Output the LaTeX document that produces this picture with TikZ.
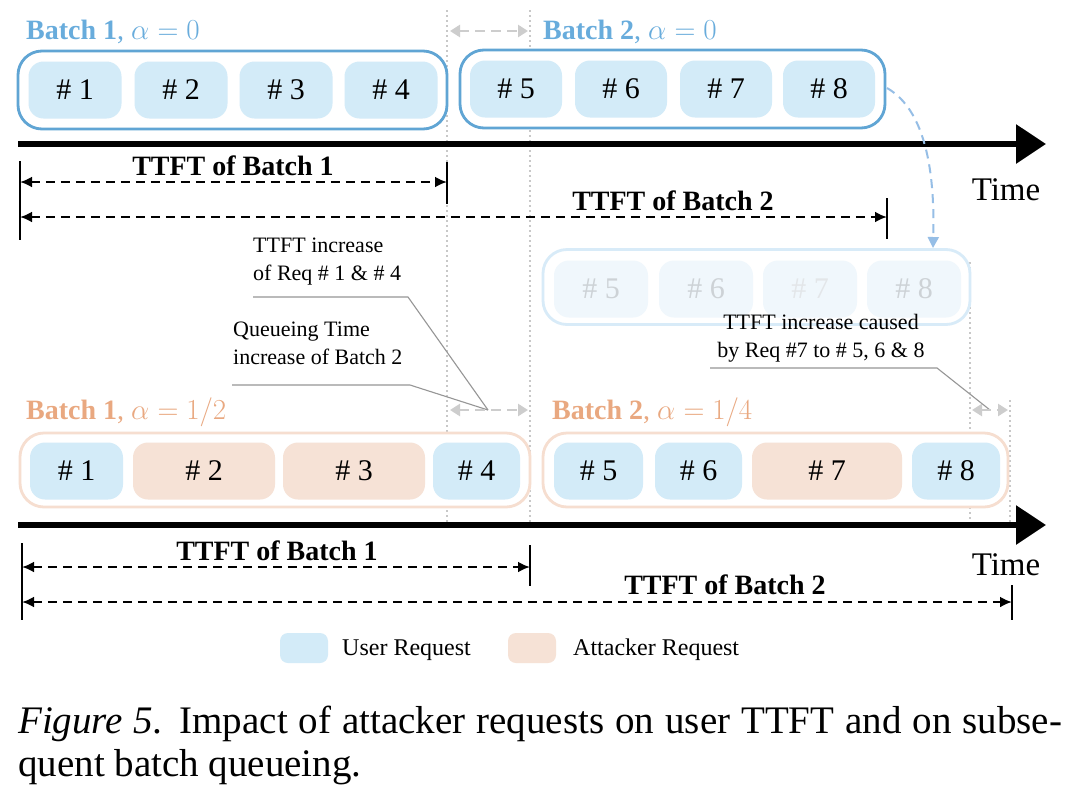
\RequirePackage{fix-cm}
\documentclass[tikz,border=0pt]{standalone}
\usepackage{fontspec}
\setmainfont{Liberation Serif}
\usetikzlibrary{arrows.meta}
\definecolor{bluebd}{RGB}{96,165,212}
\definecolor{bluetx}{RGB}{104,172,220}
\definecolor{bluefill}{RGB}{211,235,248}
\definecolor{orbd}{RGB}{246,222,208}
\definecolor{ortx}{RGB}{233,168,128}
\definecolor{orfill}{RGB}{246,226,214}
\definecolor{ghostbd}{RGB}{216,235,248}
\definecolor{ghostfill}{RGB}{240,247,252}
\definecolor{ghosttx}{RGB}{205,210,214}
\definecolor{dotgray}{RGB}{200,200,200}
\definecolor{leadgray}{RGB}{150,150,150}
\definecolor{arrgray}{RGB}{205,205,205}
\definecolor{curveblue}{RGB}{150,190,230}
\newcommand\fsz[2]{\fontsize{#1}{#2}\selectfont}
\newcommand\amath[1]{{\fsz{29}{30}$#1$}}
\begin{document}
\begin{tikzpicture}[x=1pt,y=-1pt,
  outerB/.style={draw=bluebd, line width=2.8pt, rounded corners=24pt, fill=white, minimum height=78pt, inner sep=0pt},
  outerO/.style={draw=orbd, line width=2.8pt, rounded corners=24pt, fill=white, minimum height=74pt, inner sep=0pt},
  outerG/.style={draw=ghostbd, line width=2.8pt, rounded corners=24pt, fill=white, minimum height=75pt, inner sep=0pt},
  req/.style={rounded corners=15pt, minimum height=57pt, inner sep=0pt, font=\fsz{30}{30}},
  user/.style={req, fill=bluefill},
  att/.style={req, fill=orfill},
  ghostreq/.style={req, fill=ghostfill, text=ghosttx},
  bluelab/.style={anchor=west, text=bluetx, font=\fsz{28}{30}, inner sep=0pt},
  orlab/.style={anchor=west, text=ortx, font=\fsz{28}{30}, inner sep=0pt},
  dotline/.style={draw=dotgray, line width=2pt, dash pattern=on 2pt off 3pt},
  axis/.style={line width=6pt, -{Triangle[length=30pt,width=38pt]}},
  bar/.style={line width=2.4pt},
  dim/.style={line width=2.4pt, dash pattern=on 9pt off 6pt, {Latex[length=12pt,width=11pt]}-{Latex[length=12pt,width=11pt]}},
  gapline/.style={draw=arrgray, line width=2.6pt, dash pattern=on 10pt off 6pt, {Triangle[length=10pt,width=12pt]}-{Triangle[length=10pt,width=12pt]}},
  dimlab/.style={font=\bfseries\fsz{28}{30}, inner sep=0pt},
  timelab/.style={font=\fsz{33}{34}, inner sep=0pt},
  note/.style={font=\fsz{22}{28}, inner sep=0pt},
  lead/.style={draw=leadgray, line width=1.1pt},
  swatch/.style={rounded corners=8pt, minimum width=48pt, minimum height=30pt, inner sep=0pt},
  legtx/.style={anchor=west, font=\fsz{24}{26}, inner sep=0pt},
  captx/.style={anchor=base west, font=\fsz{39}{43}, inner sep=0pt}
]
\useasboundingbox (0,0) rectangle (1080,812);
\fill[white] (0,0) rectangle (1080,812);

% dotted guide lines
\coordinate (d1t) at (447,10);  \coordinate (d1b) at (447,522);
\coordinate (d2t) at (530,10);  \coordinate (d2b) at (530,522);
\coordinate (d3t) at (970,262); \coordinate (d3b) at (970,522);
\coordinate (d4t) at (1010,400); \coordinate (d4b) at (1010,522);
\draw[dotline] (d1t) -- (d1b);
\draw[dotline] (d2t) -- (d2b);
\draw[dotline] (d3t) -- (d3b);
\draw[dotline] (d4t) -- (d4b);

% ---------- top scenario ----------
\node[bluelab] (lb1) at (26,32) {\textbf{Batch 1}, \amath{\alpha = 0}};
\node[bluelab] (lb2) at (543,32) {\textbf{Batch 2}, \amath{\alpha = 0}};
\coordinate (g1a) at (450,31); \coordinate (g1b) at (528,31);
\draw[gapline] (g1a) -- (g1b);

\node[outerB, minimum width=429pt] (B1) at (232.5,90) {};
\node[user, minimum width=93pt] (r1) at (75,90) {\# 1};
\node[user, minimum width=93pt] (r2) at (181,90) {\# 2};
\node[user, minimum width=93pt] (r3) at (286,90) {\# 3};
\node[user, minimum width=93pt] (r4) at (391,90) {\# 4};

\node[outerB, minimum width=425pt] (B2) at (672.5,89) {};
\node[user, minimum width=92pt] (r5) at (516,89) {\# 5};
\node[user, minimum width=92pt] (r6) at (621,89) {\# 6};
\node[user, minimum width=92pt] (r7) at (726,89) {\# 7};
\node[user, minimum width=92pt] (r8) at (829,89) {\# 8};

\coordinate (ax1s) at (18,144); \coordinate (ax1e) at (1046,144);
\draw[axis] (ax1s) -- (ax1e);

\coordinate (tb1t) at (20,161); \coordinate (tb1b) at (20,240);
\coordinate (tb2t) at (447,162); \coordinate (tb2b) at (447,204);
\coordinate (tb3t) at (887,198); \coordinate (tb3b) at (887,239);
\draw[bar] (tb1t) -- (tb1b);
\draw[bar] (tb2t) -- (tb2b);
\draw[bar] (tb3t) -- (tb3b);
\coordinate (td1a) at (20,182); \coordinate (td1b) at (447,182);
\coordinate (td2a) at (20,217); \coordinate (td2b) at (887,217);
\draw[dim] (td1a) -- (td1b);
\draw[dim] (td2a) -- (td2b);
\node[dimlab] (tt1) at (233,166) {TTFT of Batch 1};
\node[dimlab] (tt2) at (673,201) {TTFT of Batch 2};
\node[timelab] (time1) at (1006,190) {Time};

% ---------- ghost batch 2 ----------
\node[outerG, minimum width=427pt] (G) at (756.5,287) {};
\node[ghostreq, minimum width=94pt] (gr5) at (601,289) {\# 5};
\node[ghostreq, minimum width=94pt] (gr6) at (706,289) {\# 6};
\node[ghostreq, minimum width=94pt, text=ghosttx!55] (gr7) at (810,289) {\# 7};
\node[ghostreq, minimum width=94pt] (gr8) at (914,289) {\# 8};

\coordinate (cvs) at (887,88); \coordinate (cve) at (933,248);
\draw[draw=curveblue, line width=2pt, dash pattern=on 9pt off 6pt, -{Triangle[length=11pt,width=11pt]}]
  (cvs) .. controls (925,110) and (935,170) .. (cve);

% ---------- annotations ----------
\node[note, anchor=north west, align=left] (n1) at (253,238) {TTFT increase\\of Req \# 1 \& \# 4};
\node[note, anchor=north west, align=left] (n2) at (233,322) {Queueing Time\\increase of Batch 2};
\node[note, anchor=north, align=center] (n3) at (821,314) {TTFT increase caused\\by Req \#7 to \# 5, 6 \& 8};
\coordinate (u1a) at (253,297); \coordinate (u1b) at (408,297);
\coordinate (u2a) at (232,385); \coordinate (u2b) at (410,385);
\coordinate (u3a) at (710,368); \coordinate (u3b) at (937,368);
\coordinate (p1) at (488,410); \coordinate (p2) at (990,410);
\draw[lead] (u1a) -- (u1b) -- (p1);
\draw[lead] (u2a) -- (u2b) -- (p1);
\draw[lead] (u3a) -- (u3b) -- (p2);
\coordinate (g2a) at (450,410); \coordinate (g2b) at (528,410);
\coordinate (g3a) at (972,410); \coordinate (g3b) at (1008,410);
\draw[gapline] (g2a) -- (g2b);
\draw[gapline] (g3a) -- (g3b);

% ---------- bottom scenario ----------
\node[orlab] (lo1) at (26,412) {\textbf{Batch 1}, \amath{\alpha = 1/2}};
\node[orlab] (lo2) at (552,412) {\textbf{Batch 2}, \amath{\alpha = 1/4}};

\node[outerO, minimum width=510pt] (O1) at (275,470) {};
\node[user, minimum width=93pt] (s1) at (76.5,471) {\# 1};
\node[att, minimum width=142pt] (s2) at (204,471) {\# 2};
\node[att, minimum width=142pt] (s3) at (354,471) {\# 3};
\node[user, minimum width=87pt] (s4) at (476.5,471) {\# 4};

\node[outerO, minimum width=465pt] (O2) at (775.5,470) {};
\node[user, minimum width=89pt] (s5) at (598.5,471) {\# 5};
\node[user, minimum width=87pt] (s6) at (698.5,471) {\# 6};
\node[att, minimum width=150pt] (s7) at (827,471) {\# 7};
\node[user, minimum width=88pt] (s8) at (956,471) {\# 8};

\coordinate (ax2s) at (18,525); \coordinate (ax2e) at (1046,525);
\draw[axis] (ax2s) -- (ax2e);

\coordinate (bb1t) at (22,543); \coordinate (bb1b) at (22,620);
\coordinate (bb2t) at (530,545); \coordinate (bb2b) at (530,586);
\coordinate (bb3t) at (1012,585); \coordinate (bb3b) at (1012,620);
\draw[bar] (bb1t) -- (bb1b);
\draw[bar] (bb2t) -- (bb2b);
\draw[bar] (bb3t) -- (bb3b);
\coordinate (bd1a) at (22,567); \coordinate (bd1b) at (530,567);
\coordinate (bd2a) at (22,602); \coordinate (bd2b) at (1012,602);
\draw[dim] (bd1a) -- (bd1b);
\draw[dim] (bd2a) -- (bd2b);
\node[dimlab] (bt1) at (277,551) {TTFT of Batch 1};
\node[dimlab] (bt2) at (725,585) {TTFT of Batch 2};
\node[timelab] (time2) at (1006,565) {Time};

% ---------- legend ----------
\node[swatch, fill=bluefill] (lgu) at (304,648) {};
\node[legtx] (lgut) at (342,650) {User Request};
\node[swatch, fill=orfill] (lga) at (532,648) {};
\node[legtx] (lgat) at (573,650) {Attacker Request};

% ---------- caption ----------
\node[captx] (cap1) at (18,733) {\makebox[1044pt][s]{\textit{Figure 5.} Impact of attacker requests on user TTFT and on subse-}};
\node[captx] (cap2) at (18,776) {quent batch queueing.};
\end{tikzpicture}
\end{document}
